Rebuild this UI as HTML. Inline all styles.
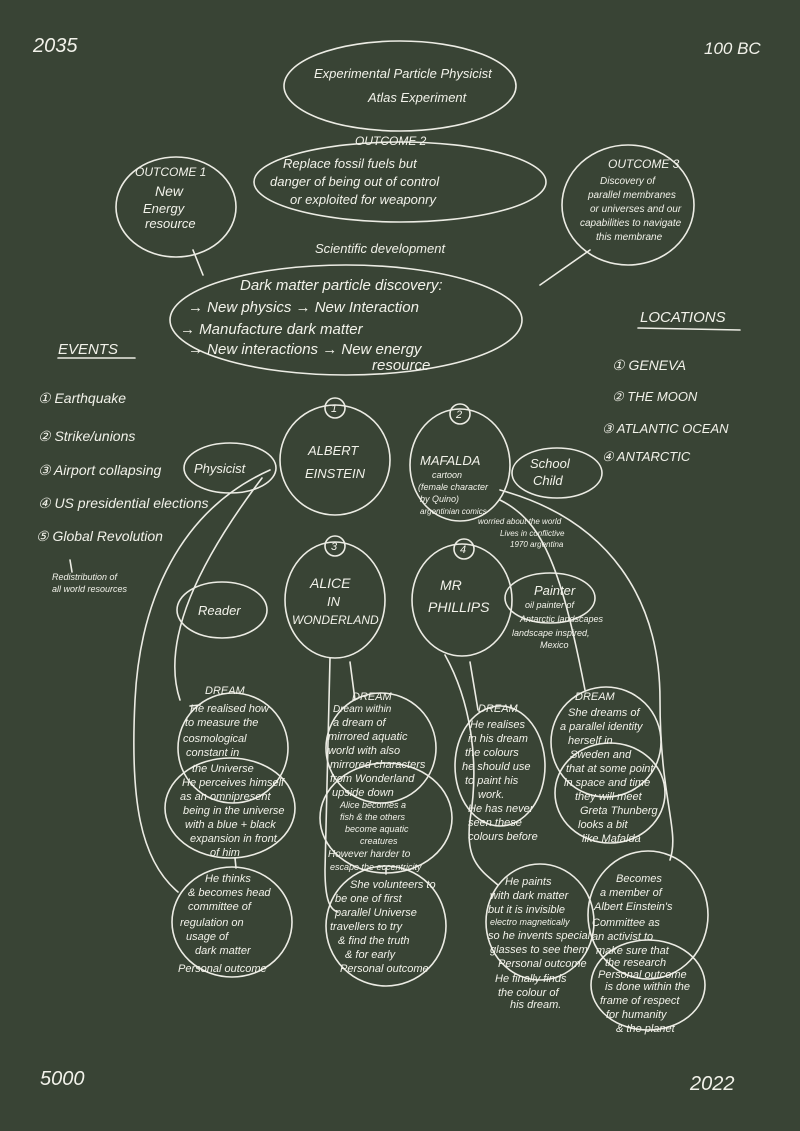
<!DOCTYPE html>
<html><head><meta charset="utf-8"><style>
html,body{margin:0;padding:0;background:#394435;}
svg{display:block}
text{font-family:"Liberation Sans",sans-serif;fill:#f2f2ea;font-style:italic}
.s{fill:none;stroke:#ecece4;stroke-width:1.6;stroke-linecap:round}
.t{stroke:#ecece4;stroke-width:1.4}
</style></head><body>
<svg width="800" height="1131" viewBox="0 0 800 1131" xmlns="http://www.w3.org/2000/svg">
<rect width="800" height="1131" fill="#394435"/>
<text x="33" y="52" font-size="20">2035</text>
<text x="704" y="54" font-size="17">100 BC</text>
<text x="40" y="1085" font-size="20">5000</text>
<text x="690" y="1090" font-size="20">2022</text>

<g class="s">
<ellipse cx="400" cy="86" rx="116" ry="45"/>
<ellipse cx="400" cy="182" rx="146" ry="40"/>
<ellipse cx="176" cy="207" rx="60" ry="50"/>
<ellipse cx="628" cy="205" rx="66" ry="60"/>
<ellipse cx="346" cy="320" rx="176" ry="55"/>
<path d="M203 275 L193 250"/><path d="M540 285 L590 250"/>
<path d="M638 328 L740 330"/><path d="M58 358 L135 358"/>
<path d="M70 560 L72 572"/>
<!-- persons -->
<circle cx="335" cy="460" r="55"/>
<ellipse cx="460" cy="465" rx="50" ry="56"/>
<ellipse cx="230" cy="468" rx="46" ry="25"/>
<ellipse cx="557" cy="473" rx="45" ry="25"/>
<ellipse cx="335" cy="600" rx="50" ry="58"/>
<ellipse cx="462" cy="600" rx="50" ry="56"/>
<ellipse cx="222" cy="610" rx="45" ry="28"/>
<ellipse cx="550" cy="598" rx="45" ry="25"/>
<circle cx="335" cy="408" r="10"/><circle cx="460" cy="414" r="10"/>
<circle cx="335" cy="546" r="10"/><circle cx="464" cy="549" r="10"/>
<!-- dream blobs -->
<circle cx="233" cy="748" r="55"/>
<ellipse cx="230" cy="808" rx="65" ry="50"/>
<circle cx="381" cy="748" r="55"/>
<ellipse cx="386" cy="818" rx="66" ry="55"/>
<ellipse cx="500" cy="766" rx="45" ry="60"/>
<circle cx="606" cy="742" r="55"/>
<ellipse cx="610" cy="793" rx="55" ry="50"/>
<!-- outcomes -->
<ellipse cx="232" cy="922" rx="60" ry="55"/>
<ellipse cx="386" cy="926" rx="60" ry="60"/>
<ellipse cx="540" cy="922" rx="54" ry="58"/>
<ellipse cx="648" cy="915" rx="60" ry="64"/>
<ellipse cx="648" cy="985" rx="57" ry="45"/>
<!-- connectors -->
<path d="M270 470 C180 510 140 600 135 700 C130 800 140 860 178 892"/>
<path d="M262 478 C200 560 160 640 180 700"/>
<path d="M500 490 C610 520 660 600 660 700 C660 800 680 830 670 860"/>
<path d="M500 500 C540 520 560 560 585 690"/>
<path d="M330 658 L325 870 C325 900 330 910 338 912"/>
<path d="M445 655 C470 700 480 760 470 820 C465 860 480 870 498 885"/>
<path d="M350 662 L355 700"/><path d="M470 662 L478 710"/>
<path d="M235 858 L236 868"/><path d="M386 874 L386 868"/>
<path d="M200 705 L190 706"/>
</g>

<g font-size="12">
<text x="314" y="78" font-size="13">Experimental Particle Physicist</text>
<text x="368" y="102" font-size="13">Atlas Experiment</text>
<text x="355" y="145" font-size="12">OUTCOME 2</text>
<text x="283" y="168" font-size="13">Replace fossil fuels but</text>
<text x="270" y="186" font-size="13">danger of being out of control</text>
<text x="290" y="204" font-size="13">or exploited for weaponry</text>
<text x="135" y="176">OUTCOME 1</text>
<text x="155" y="196" font-size="14">New</text>
<text x="143" y="213" font-size="13">Energy</text>
<text x="145" y="228" font-size="13">resource</text>
<text x="608" y="168">OUTCOME 3</text>
<text x="600" y="184" font-size="10">Discovery of</text>
<text x="588" y="198" font-size="10">parallel membranes</text>
<text x="590" y="212" font-size="10">or universes and our</text>
<text x="580" y="226" font-size="10">capabilities to navigate</text>
<text x="596" y="240" font-size="10">this membrane</text>
<text x="315" y="253" font-size="13">Scientific development</text>
<text x="240" y="290" font-size="15">Dark matter particle discovery:</text>
<text x="188" y="312" font-size="15">→ New physics → New Interaction</text>
<text x="180" y="334" font-size="15">→ Manufacture dark matter</text>
<text x="188" y="354" font-size="15">→ New interactions → New energy</text>
<text x="372" y="370" font-size="15">resource</text>
<text x="640" y="322" font-size="15">LOCATIONS</text>
<text x="612" y="370" font-size="14">① GENEVA</text>
<text x="612" y="401" font-size="13">② THE MOON</text>
<text x="602" y="433" font-size="13">③ ATLANTIC OCEAN</text>
<text x="602" y="461" font-size="13">④ ANTARCTIC</text>
<text x="58" y="354" font-size="15">EVENTS</text>
<text x="38" y="403" font-size="14">① Earthquake</text>
<text x="38" y="441" font-size="14">② Strike/unions</text>
<text x="38" y="475" font-size="14">③ Airport collapsing</text>
<text x="38" y="508" font-size="14">④ US presidential elections</text>
<text x="36" y="541" font-size="14">⑤ Global Revolution</text>
<text x="52" y="580" font-size="9">Redistribution of</text>
<text x="52" y="592" font-size="9">all world resources</text>
<text x="331" y="412" font-size="11">1</text><text x="456" y="418" font-size="11">2</text>
<text x="331" y="550" font-size="11">3</text><text x="460" y="553" font-size="11">4</text>
<text x="308" y="455" font-size="13">ALBERT</text>
<text x="305" y="478" font-size="13">EINSTEIN</text>
<text x="194" y="473" font-size="13">Physicist</text>
<text x="420" y="465" font-size="13">MAFALDA</text>
<text x="432" y="478" font-size="9">cartoon</text>
<text x="418" y="490" font-size="9">(female character</text>
<text x="420" y="502" font-size="9">by Quino)</text>
<text x="420" y="514" font-size="8">argentinian comics</text>
<text x="478" y="524" font-size="8">worried about the world</text>
<text x="500" y="536" font-size="8">Lives in conflictive</text>
<text x="510" y="547" font-size="8">1970 argentina</text>
<text x="530" y="468" font-size="13">School</text>
<text x="533" y="485" font-size="13">Child</text>
<text x="310" y="588" font-size="14">ALICE</text>
<text x="327" y="606" font-size="13">IN</text>
<text x="292" y="624" font-size="12">WONDERLAND</text>
<text x="198" y="615" font-size="13">Reader</text>
<text x="440" y="590" font-size="14">MR</text>
<text x="428" y="612" font-size="14">PHILLIPS</text>
<text x="534" y="595" font-size="13">Painter</text>
<text x="525" y="608" font-size="9">oil painter of</text>
<text x="520" y="622" font-size="9">Antarctic landscapes</text>
<text x="512" y="636" font-size="9">landscape inspired,</text>
<text x="540" y="648" font-size="9">Mexico</text>
</g>

<g font-size="11">
<text x="205" y="694">DREAM</text>
<text x="352" y="700">DREAM</text>
<text x="478" y="712">DREAM</text>
<text x="575" y="700">DREAM</text>
<text x="190" y="712">He realised how</text>
<text x="185" y="726">to measure the</text>
<text x="183" y="742">cosmological</text>
<text x="186" y="756">constant in</text>
<text x="192" y="772">the Universe</text>
<text x="182" y="786">He perceives himself</text>
<text x="180" y="800">as an omnipresent</text>
<text x="183" y="814">being in the universe</text>
<text x="185" y="828">with a blue + black</text>
<text x="190" y="842">expansion in front</text>
<text x="210" y="856">of him</text>
<text x="333" y="712" font-size="10">Dream within</text>
<text x="333" y="726">a dream of</text>
<text x="328" y="740">mirrored aquatic</text>
<text x="328" y="754">world with also</text>
<text x="330" y="768">mirrored characters</text>
<text x="330" y="782">from Wonderland</text>
<text x="332" y="796">upside down</text>
<text x="340" y="808" font-size="9">Alice becomes a</text>
<text x="340" y="820" font-size="9">fish &amp; the others</text>
<text x="345" y="832" font-size="9">become aquatic</text>
<text x="360" y="844" font-size="9">creatures</text>
<text x="328" y="857" font-size="10">However harder to</text>
<text x="330" y="870" font-size="9">escape the eccentricity</text>
<text x="470" y="728">He realises</text>
<text x="468" y="742">in his dream</text>
<text x="465" y="756">the colours</text>
<text x="462" y="770">he should use</text>
<text x="465" y="784">to paint his</text>
<text x="478" y="798">work.</text>
<text x="468" y="812">He has never</text>
<text x="468" y="826">seen these</text>
<text x="468" y="840">colours before</text>
<text x="568" y="716">She dreams of</text>
<text x="560" y="730">a parallel identity</text>
<text x="568" y="744">herself in</text>
<text x="570" y="758">Sweden and</text>
<text x="566" y="772">that at some point</text>
<text x="564" y="786">in space and time</text>
<text x="575" y="800">they will meet</text>
<text x="580" y="814">Greta Thunberg</text>
<text x="578" y="828">looks a bit</text>
<text x="582" y="842">like Mafalda</text>
<text x="205" y="882">He thinks</text>
<text x="188" y="896">&amp; becomes head</text>
<text x="188" y="910">committee of</text>
<text x="180" y="926">regulation on</text>
<text x="186" y="940">usage of</text>
<text x="195" y="954">dark matter</text>
<text x="178" y="972">Personal outcome</text>
<text x="350" y="888">She volunteers to</text>
<text x="335" y="902">be one of first</text>
<text x="335" y="916">parallel Universe</text>
<text x="330" y="930">travellers to try</text>
<text x="338" y="944">&amp; find the truth</text>
<text x="345" y="958">&amp; for early</text>
<text x="340" y="972">Personal outcome</text>
<text x="505" y="885">He paints</text>
<text x="490" y="899">with dark matter</text>
<text x="488" y="913">but it is invisible</text>
<text x="490" y="925" font-size="9">electro magnetically</text>
<text x="488" y="939">so he invents special</text>
<text x="490" y="953">glasses to see them</text>
<text x="498" y="967">Personal outcome</text>
<text x="495" y="982">He finally finds</text>
<text x="498" y="996">the colour of</text>
<text x="510" y="1008">his dream.</text>
<text x="616" y="882">Becomes</text>
<text x="600" y="896">a member of</text>
<text x="594" y="910">Albert Einstein's</text>
<text x="592" y="926">Committee as</text>
<text x="592" y="940">an activist to</text>
<text x="596" y="954">make sure that</text>
<text x="605" y="966">the research</text>
<text x="598" y="978">Personal outcome</text>
<text x="605" y="990">is done within the</text>
<text x="600" y="1004">frame of respect</text>
<text x="606" y="1018">for humanity</text>
<text x="616" y="1032">&amp; the planet</text>
</g>
</svg>
</body></html>
